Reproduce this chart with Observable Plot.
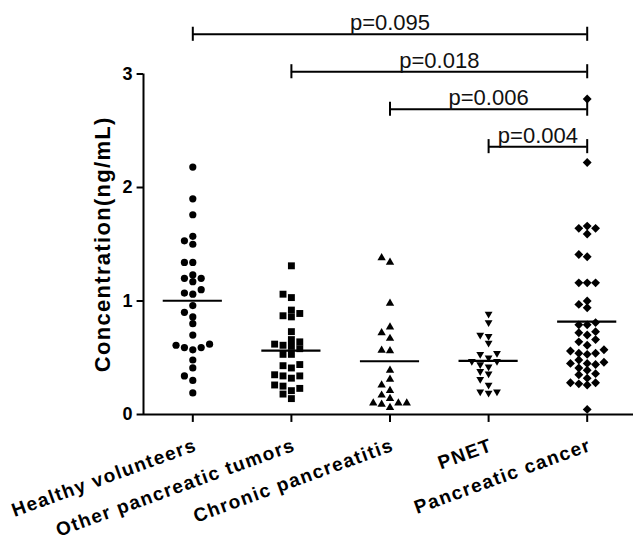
<!DOCTYPE html>
<html><head><meta charset="utf-8">
<script src="https://cdn.jsdelivr.net/npm/d3@7"></script>
<script src="https://cdn.jsdelivr.net/npm/@observablehq/plot@0.6"></script>
<style>
body{margin:0;background:#fff;}
#chart svg{font-family:"Liberation Sans",Arial,sans-serif;overflow:visible;}
</style>
</head><body><div id="chart"></div>
<script>
// ---- data ----
const groups = ["Healthy volunteers","Other pancreatic tumors","Chronic pancreatitis","PNET","Pancreatic cancer"];
const healthy = [2.18,1.90,1.76,1.53,1.57,1.50,1.34,1.34,1.23,1.20,1.17,1.20,1.10,1.06,1.07,0.96,0.90,0.86,0.80,0.70,0.62,0.59,0.57,0.59,0.61,0.48,0.41,0.34,0.30,0.19];
const other = [1.31,1.03,1.06,0.92,0.87,0.86,0.89,0.73,0.64,0.66,0.60,0.62,0.61,0.58,0.53,0.53,0.43,0.41,0.44,0.34,0.32,0.34,0.35,0.25,0.23,0.26,0.21,0.14,0.18];
const chronic = [1.34,1.38,0.98,0.77,0.72,0.67,0.56,0.565,0.39,0.31,0.26,0.21,0.17,0.14,0.10,0.10,0.09,0.10,0.06];
const pnet = [0.885,0.81,0.69,0.70,0.63,0.53,0.54,0.47,0.47,0.50,0.42,0.44,0.36,0.38,0.31,0.26,0.20,0.19,0.20];
const cancer = [2.78,2.22,1.64,1.66,1.64,1.59,1.39,1.41,1.16,1.16,1.16,1.00,0.94,0.97,0.79,0.81,0.79,0.73,0.70,0.72,0.64,0.66,0.61,0.57,0.54,0.56,0.54,0.53,0.46,0.44,0.48,0.45,0.45,0.39,0.41,0.35,0.36,0.32,0.28,0.26,0.27,0.28,0.045];
const pLabels = ["p=0.095","p=0.018","p=0.006","p=0.004"];
const compareFrom = [0,1,2,3];
const compareTo = 4;
const yTicks = [0,1,2,3];
const yTitle = "Concentration(ng/mL)";

// ---- derived ----
const seriesValues = [healthy, other, chronic, pnet, cancer];
function dodge(vals, thr){
  const order = vals.map((v,i)=>i).sort((a,b)=>vals[a]-vals[b]);
  const slots = new Array(vals.length), placed = [];
  const cand = [0,-1,1,-2,2,-3,3,-4,4];
  for (const i of order){
    for (const s of cand){
      if (!placed.some(p => p.s===s && Math.abs(p.v-vals[i]) < thr)){ slots[i]=s; placed.push({s, v:vals[i]}); break; }
    }
  }
  return slots;
}
const colStep = 0.085;
const points = [];
seriesValues.forEach((vals,g)=>{ const sl = dodge(vals, 0.058); vals.forEach((v,k)=>points.push({g, v, x: g + sl[k]*colStep})); });
const means = seriesValues.map((vals,g)=>({g, m: d3.mean(vals)}));
const brackets = compareFrom.map((f,i)=>({x1:f, x2:compareTo, y: 3.35 - i*0.33, label: pLabels[i]}));
const capH = 0.062;
const invTriangle = {draw(ctx,size){const y=Math.sqrt(size/(Math.sqrt(3)*3));ctx.moveTo(0,2*y);ctx.lineTo(-Math.sqrt(3)*y,-y);ctx.lineTo(Math.sqrt(3)*y,-y);ctx.closePath();}};
const symbols = ["circle","square","triangle",invTriangle,"diamond2"];
const radii = [3.6,3.9,3.1,2.9,4.0];
const x0 = -0.5;

const chart = Plot.plot({
  width: 633, height: 543,
  marginLeft: 143, marginRight: 0, marginTop: 0, marginBottom: 129,
  x: {domain:[x0,4.5], range:[143,636], axis:null},
  y: {domain:[0,3], range:[414,73.5], axis:null},
  marks: [
    Plot.ruleX([x0], {y1:0, y2:3, strokeWidth:2, stroke:"black"}),
    Plot.ruleY([0], {x1:x0, x2:4.5, strokeWidth:2, stroke:"black"}),
    Plot.ruleX(d3.range(groups.length), {y1:0, y2:-0.07, strokeWidth:2, stroke:"black"}),
    Plot.ruleY(yTicks, {x1:x0, x2:x0-0.065, strokeWidth:2, stroke:"black"}),
    Plot.text(yTicks, {x:x0, y:d=>d, text:d=>String(d), dx:-11, textAnchor:"end", fontSize:18, fontWeight:"bold", fill:"black"}),
    Plot.text([yTitle], {x:x0, y:1.5, dx:-41, rotate:-90, fontSize:22, fontWeight:"bold", fill:"black"}),
    Plot.text(groups, {x:(d,i)=>i, y:0, text:d=>d, rotate:-20, textAnchor:"end", dx:3, dy:30, fontSize:19, fontWeight:"bold", fill:"black"}),
    ...seriesValues.map((_,g)=>Plot.dot(points.filter(p=>p.g===g), {x:"x", y:"v", r:radii[g], symbol:symbols[g], fill:"black", stroke:"none"})),
    Plot.ruleY(means, {x1:d=>d.g-0.3, x2:d=>d.g+0.3, y:"m", strokeWidth:2.2, stroke:"black"}),
    Plot.ruleY(brackets, {x1:"x1", x2:"x2", y:"y", strokeWidth:2, stroke:"black"}),
    Plot.ruleX(brackets, {x:"x1", y1:d=>d.y-capH, y2:d=>d.y+capH, strokeWidth:2, stroke:"black"}),
    Plot.ruleX(brackets, {x:"x2", y1:d=>d.y-capH, y2:d=>d.y+capH, strokeWidth:2, stroke:"black"}),
    Plot.text(brackets, {x:d=>(d.x1+d.x2)/2, y:"y", text:"label", lineAnchor:"bottom", dy:-4, fontSize:22, fill:"#111"})
  ]
});
document.getElementById("chart").append(chart);
// GraphPad-style letter spacing on the axis texts
chart.querySelectorAll("text").forEach(t=>{
  const s = t.textContent;
  if (groups.includes(s)) t.style.letterSpacing = "1.4px";
  if (s === yTitle) t.style.letterSpacing = "1.3px";
});
</script>
</body></html>
